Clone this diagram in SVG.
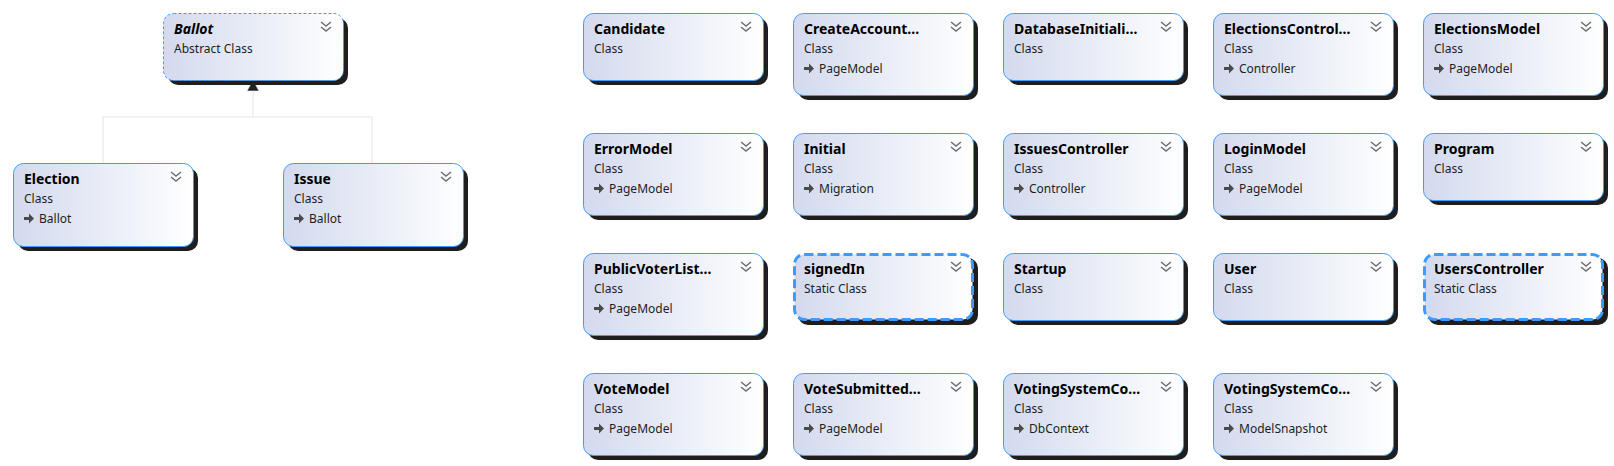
<svg xmlns="http://www.w3.org/2000/svg" width="1614" height="466" viewBox="0 0 1614 466">
<style>
.sh{fill:#1e1e1e}
.bx{fill:url(#g);stroke:#3d9bff;stroke-width:1}
.abs{stroke-dasharray:3 2}
.st{stroke-width:3;stroke-dasharray:9 4}
.t{font-family:"Noto Sans","Open Sans",sans-serif;font-size:14px;font-weight:bold;fill:#000}
.k{font-family:"Noto Sans","Open Sans",sans-serif;font-size:12px;fill:#1e1e1e}
.b{font-family:"Noto Sans","Open Sans",sans-serif;font-size:12px;fill:#1e1e1e}
.ch{fill:none;stroke:#6e6e6e;stroke-width:1.5}
.conn{fill:none;stroke:#e4e4e4;stroke-width:1}
</style>
<defs>
<linearGradient id="g" x1="0" y1="0" x2="1" y2="0">
<stop offset="0" stop-color="#d3daee"/>
<stop offset="1" stop-color="#ffffff"/>
</linearGradient>
<g id="chev"><path class="ch" d="M158 9 l5 4 l5 -4 M158 14 l5 4 l5 -4"/></g>
<g id="arr"><path d="M11 54 h5 v-3.5 l5 5 l-5 5 v-3.5 h-5 z" fill="#4a4a4a"/></g>
</defs>
<rect width="1614" height="466" fill="#fff"/>
<g id="connectors">
<path class="conn" d="M253 91 V117 M103 117 H372 M103 117 V163 M372 117 V163"/>
<polygon points="253,80 247,91 259,91" fill="#222" stroke="#f4f4f4" stroke-width="0.6"/>
</g>
<g id="n-ballot" transform="translate(163,13)">
<rect class="sh" x="5" y="5" width="180" height="67" rx="10"/>
<rect class="bx abs" x="0.5" y="0.5" width="180" height="67" rx="10"/>
<text class="t" x="11" y="21" font-style="italic">Ballot</text>
<text class="k" x="11" y="40">Abstract Class</text>
<use href="#chev"/>
</g>
<g id="n-election" transform="translate(13,163)">
<rect class="sh" x="5" y="5" width="180" height="83" rx="10"/>
<rect class="bx" x="0.5" y="0.5" width="180" height="83" rx="10"/>
<text class="t" x="11" y="21">Election</text>
<text class="k" x="11" y="40">Class</text>
<use href="#arr"/><text class="b" x="26" y="60">Ballot</text>
<use href="#chev"/>
</g>
<g id="n-issue" transform="translate(283,163)">
<rect class="sh" x="5" y="5" width="180" height="83" rx="10"/>
<rect class="bx" x="0.5" y="0.5" width="180" height="83" rx="10"/>
<text class="t" x="11" y="21">Issue</text>
<text class="k" x="11" y="40">Class</text>
<use href="#arr"/><text class="b" x="26" y="60">Ballot</text>
<use href="#chev"/>
</g>
<!-- row 1 -->
<g id="n-candidate" transform="translate(583,13)">
<rect class="sh" x="5" y="5" width="180" height="67" rx="10"/>
<rect class="bx" x="0.5" y="0.5" width="180" height="67" rx="10"/>
<text class="t" x="11" y="21">Candidate</text>
<text class="k" x="11" y="40">Class</text>
<use href="#chev"/>
</g>
<g id="n-createaccount" transform="translate(793,13)">
<rect class="sh" x="5" y="5" width="180" height="82" rx="10"/>
<rect class="bx" x="0.5" y="0.5" width="180" height="82" rx="10"/>
<text class="t" x="11" y="21">CreateAccount…</text>
<text class="k" x="11" y="40">Class</text>
<use href="#arr"/><text class="b" x="26" y="60">PageModel</text>
<use href="#chev"/>
</g>
<g id="n-databaseinit" transform="translate(1003,13)">
<rect class="sh" x="5" y="5" width="180" height="67" rx="10"/>
<rect class="bx" x="0.5" y="0.5" width="180" height="67" rx="10"/>
<text class="t" x="11" y="21">DatabaseInitiali…</text>
<text class="k" x="11" y="40">Class</text>
<use href="#chev"/>
</g>
<g id="n-electionscontrol" transform="translate(1213,13)">
<rect class="sh" x="5" y="5" width="180" height="82" rx="10"/>
<rect class="bx" x="0.5" y="0.5" width="180" height="82" rx="10"/>
<text class="t" x="11" y="21">ElectionsControl…</text>
<text class="k" x="11" y="40">Class</text>
<use href="#arr"/><text class="b" x="26" y="60">Controller</text>
<use href="#chev"/>
</g>
<g id="n-electionsmodel" transform="translate(1423,13)">
<rect class="sh" x="5" y="5" width="180" height="82" rx="10"/>
<rect class="bx" x="0.5" y="0.5" width="180" height="82" rx="10"/>
<text class="t" x="11" y="21">ElectionsModel</text>
<text class="k" x="11" y="40">Class</text>
<use href="#arr"/><text class="b" x="26" y="60">PageModel</text>
<use href="#chev"/>
</g>
<!-- row 2 -->
<g id="n-errormodel" transform="translate(583,133)">
<rect class="sh" x="5" y="5" width="180" height="82" rx="10"/>
<rect class="bx" x="0.5" y="0.5" width="180" height="82" rx="10"/>
<text class="t" x="11" y="21">ErrorModel</text>
<text class="k" x="11" y="40">Class</text>
<use href="#arr"/><text class="b" x="26" y="60">PageModel</text>
<use href="#chev"/>
</g>
<g id="n-initial" transform="translate(793,133)">
<rect class="sh" x="5" y="5" width="180" height="82" rx="10"/>
<rect class="bx" x="0.5" y="0.5" width="180" height="82" rx="10"/>
<text class="t" x="11" y="21">Initial</text>
<text class="k" x="11" y="40">Class</text>
<use href="#arr"/><text class="b" x="26" y="60">Migration</text>
<use href="#chev"/>
</g>
<g id="n-issuescontroller" transform="translate(1003,133)">
<rect class="sh" x="5" y="5" width="180" height="82" rx="10"/>
<rect class="bx" x="0.5" y="0.5" width="180" height="82" rx="10"/>
<text class="t" x="11" y="21">IssuesController</text>
<text class="k" x="11" y="40">Class</text>
<use href="#arr"/><text class="b" x="26" y="60">Controller</text>
<use href="#chev"/>
</g>
<g id="n-loginmodel" transform="translate(1213,133)">
<rect class="sh" x="5" y="5" width="180" height="82" rx="10"/>
<rect class="bx" x="0.5" y="0.5" width="180" height="82" rx="10"/>
<text class="t" x="11" y="21">LoginModel</text>
<text class="k" x="11" y="40">Class</text>
<use href="#arr"/><text class="b" x="26" y="60">PageModel</text>
<use href="#chev"/>
</g>
<g id="n-program" transform="translate(1423,133)">
<rect class="sh" x="5" y="5" width="180" height="67" rx="10"/>
<rect class="bx" x="0.5" y="0.5" width="180" height="67" rx="10"/>
<text class="t" x="11" y="21">Program</text>
<text class="k" x="11" y="40">Class</text>
<use href="#chev"/>
</g>
<!-- row 3 -->
<g id="n-publicvoterlist" transform="translate(583,253)">
<rect class="sh" x="5" y="5" width="180" height="82" rx="10"/>
<rect class="bx" x="0.5" y="0.5" width="180" height="82" rx="10"/>
<text class="t" x="11" y="21">PublicVoterList…</text>
<text class="k" x="11" y="40">Class</text>
<use href="#arr"/><text class="b" x="26" y="60">PageModel</text>
<use href="#chev"/>
</g>
<g id="n-signedin" transform="translate(793,253)">
<rect class="sh" x="5" y="5" width="180" height="67" rx="10"/>
<rect class="bx st" x="1.5" y="1.5" width="178" height="65" rx="10"/>
<text class="t" x="11" y="21">signedIn</text>
<text class="k" x="11" y="40">Static Class</text>
<use href="#chev"/>
</g>
<g id="n-startup" transform="translate(1003,253)">
<rect class="sh" x="5" y="5" width="180" height="67" rx="10"/>
<rect class="bx" x="0.5" y="0.5" width="180" height="67" rx="10"/>
<text class="t" x="11" y="21">Startup</text>
<text class="k" x="11" y="40">Class</text>
<use href="#chev"/>
</g>
<g id="n-user" transform="translate(1213,253)">
<rect class="sh" x="5" y="5" width="180" height="67" rx="10"/>
<rect class="bx" x="0.5" y="0.5" width="180" height="67" rx="10"/>
<text class="t" x="11" y="21">User</text>
<text class="k" x="11" y="40">Class</text>
<use href="#chev"/>
</g>
<g id="n-userscontroller" transform="translate(1423,253)">
<rect class="sh" x="5" y="5" width="180" height="67" rx="10"/>
<rect class="bx st" x="1.5" y="1.5" width="178" height="65" rx="10"/>
<text class="t" x="11" y="21">UsersController</text>
<text class="k" x="11" y="40">Static Class</text>
<use href="#chev"/>
</g>
<!-- row 4 -->
<g id="n-votemodel" transform="translate(583,373)">
<rect class="sh" x="5" y="5" width="180" height="82" rx="10"/>
<rect class="bx" x="0.5" y="0.5" width="180" height="82" rx="10"/>
<text class="t" x="11" y="21">VoteModel</text>
<text class="k" x="11" y="40">Class</text>
<use href="#arr"/><text class="b" x="26" y="60">PageModel</text>
<use href="#chev"/>
</g>
<g id="n-votesubmitted" transform="translate(793,373)">
<rect class="sh" x="5" y="5" width="180" height="82" rx="10"/>
<rect class="bx" x="0.5" y="0.5" width="180" height="82" rx="10"/>
<text class="t" x="11" y="21">VoteSubmitted…</text>
<text class="k" x="11" y="40">Class</text>
<use href="#arr"/><text class="b" x="26" y="60">PageModel</text>
<use href="#chev"/>
</g>
<g id="n-votingsystemcontext" transform="translate(1003,373)">
<rect class="sh" x="5" y="5" width="180" height="82" rx="10"/>
<rect class="bx" x="0.5" y="0.5" width="180" height="82" rx="10"/>
<text class="t" x="11" y="21">VotingSystemCo…</text>
<text class="k" x="11" y="40">Class</text>
<use href="#arr"/><text class="b" x="26" y="60">DbContext</text>
<use href="#chev"/>
</g>
<g id="n-votingsystemsnapshot" transform="translate(1213,373)">
<rect class="sh" x="5" y="5" width="180" height="82" rx="10"/>
<rect class="bx" x="0.5" y="0.5" width="180" height="82" rx="10"/>
<text class="t" x="11" y="21">VotingSystemCo…</text>
<text class="k" x="11" y="40">Class</text>
<use href="#arr"/><text class="b" x="26" y="60">ModelSnapshot</text>
<use href="#chev"/>
</g>
</svg>
